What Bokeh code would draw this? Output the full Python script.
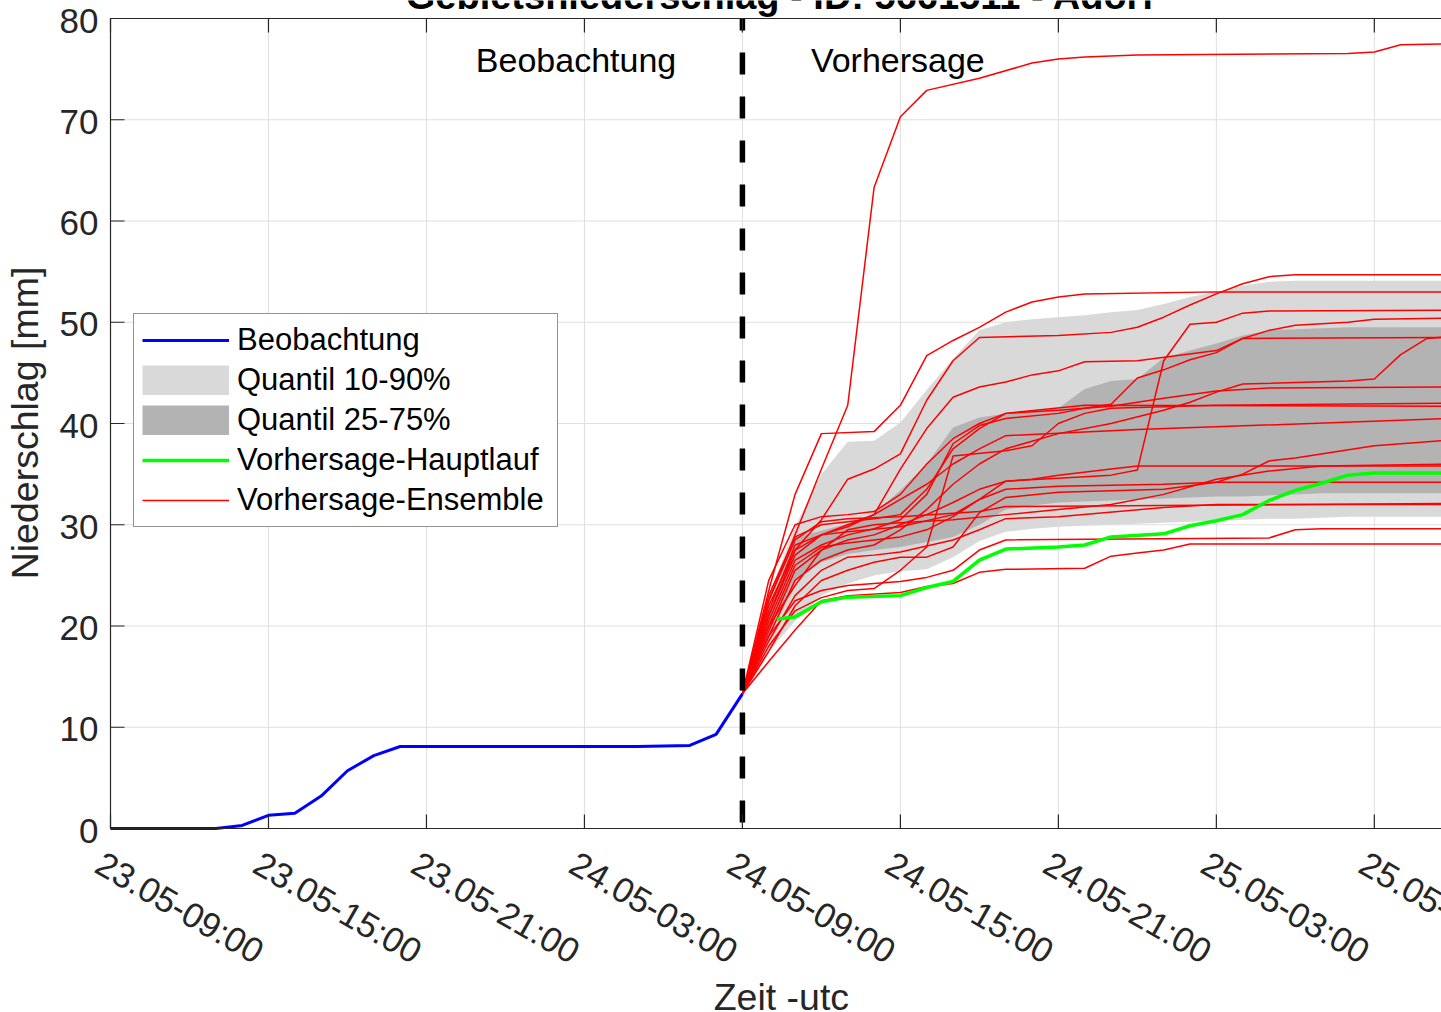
import math

from bokeh.embed import file_html
from bokeh.models import Label, Legend, LegendItem, Range1d
from bokeh.plotting import figure
from bokeh.resources import INLINE

# x positions are hours counted from 23.05 09:00 UTC
tick_hours = [0, 6, 12, 18, 24, 30, 36, 42, 48]
tick_labels = ["23.05-09:00", "23.05-15:00", "23.05-21:00", "24.05-03:00",
               "24.05-09:00", "24.05-15:00", "24.05-21:00", "25.05-03:00",
               "25.05-09:00"]
y_ticks = [0, 10, 20, 30, 40, 50, 60, 70, 80]
y_min, y_max = 0, 80

forecast_start = 24

# observed areal precipitation (cumulative, mm)
obs_hours = list(range(25))
obs_mm = [0, 0, 0, 0, 0, 0.3, 1.3, 1.5, 3.2, 5.7, 7.2, 8.1, 8.1, 8.1, 8.1, 8.1,
          8.1, 8.1, 8.1, 8.1, 8.1, 8.15, 8.2, 9.3, 13.3]

# deterministic main run
main_hours = [25.3, 26, 27, 28, 30, 31, 32, 33, 34, 36, 37, 38, 40, 41, 42, 43,
              44, 45, 46, 47, 48, 51]
main_mm = [20.7, 20.9, 22.4, 22.85, 23.0, 23.8, 24.4, 26.5, 27.6, 27.8, 28.0,
           28.8, 29.1, 29.9, 30.4, 31.0, 32.4, 33.4, 34.1, 34.9, 35.1, 35.1]

# ensemble quantiles, one value per hour from 24 to 51
band_hours = list(range(24, 52))
q10 = [13.3, 17.5, 20.5, 23.0, 24.2, 25.0, 25.4, 25.6, 26.8, 28.4, 29.3, 29.6,
       29.8, 29.9, 30.0, 30.1, 30.2, 30.3, 30.4, 30.5, 30.6, 30.6, 30.7, 30.8,
       30.8, 30.8, 30.8, 30.8]
q25 = [13.3, 19.0, 24.5, 26.3, 27.1, 27.5, 27.8, 28.3, 28.8, 30.0, 31.5, 31.9,
       32.2, 32.3, 32.4, 32.5, 32.6, 32.7, 32.8, 32.8, 32.9, 33.0, 33.1, 33.1,
       33.1, 33.1, 33.1, 33.1]
q75 = [13.3, 21.5, 28.8, 29.4, 30.1, 31.1, 33.4, 36.0, 39.6, 40.6, 41.0, 41.3,
       41.5, 43.4, 44.2, 44.4, 46.5, 47.2, 47.9, 48.7, 49.2, 49.3, 49.4, 49.5,
       49.5, 49.5, 49.5, 49.5]
q90 = [13.3, 23.0, 29.8, 35.0, 38.2, 38.3, 40.1, 43.3, 46.4, 49.2, 50.0, 50.3,
       50.5, 50.7, 51.0, 51.2, 51.8, 52.5, 53.0, 53.6, 54.0, 54.1, 54.1, 54.1,
       54.1, 54.1, 54.1, 54.1]

# ensemble members as (hour, mm) vertices
ens_01 = [(24, 13.3), (25, 22.5), (26, 29.0), (27, 35.5), (28, 41.8), (29, 63.3), (30, 70.3),
          (31, 72.9), (33, 74.1), (35, 75.6), (36, 76.0), (37, 76.2), (39, 76.4), (47, 76.55),
          (48, 76.7), (49, 77.4), (51, 77.5)]
ens_02 = [(24, 13.3), (25, 23.5), (26, 33.0), (27, 39.0), (29, 39.2), (30, 41.8), (31, 46.7),
          (32, 48.2), (33, 49.5), (34, 51.0), (35, 52.0), (36, 52.5), (37, 52.8), (42, 53.0),
          (51, 53.0)]
ens_03 = [(24, 13.3), (25, 21.0), (26, 27.5), (27, 30.5), (28, 34.5), (29, 35.5), (30, 37.0),
          (31, 42.3), (32, 46.2), (33, 48.5), (36, 48.7), (38, 49.0), (39, 49.5), (40, 50.5),
          (41, 51.7), (42, 52.8), (43, 53.8), (44, 54.5), (45, 54.7), (51, 54.7)]
ens_04 = [(24, 13.3), (25, 19.5), (26, 25.5), (27, 27.5), (28, 28.5), (29, 29.0), (30, 30.0),
          (31, 31.0), (32, 32.2), (33, 33.5), (34, 34.3), (36, 34.6), (38, 34.9), (39, 35.4),
          (40, 46.2), (41, 49.8), (42, 50.0), (43, 50.9), (44, 51.1), (51, 51.2)]
ens_05 = [(24, 13.3), (25, 22.0), (26, 27.5), (27, 29.0), (28, 29.8), (29, 31.0), (30, 35.5),
          (31, 39.5), (32, 42.6), (33, 43.6), (34, 44.1), (35, 44.8), (36, 45.2), (37, 46.1),
          (39, 46.2), (42, 47.2), (43, 48.4), (44, 49.2), (45, 49.7), (47, 50.0), (48, 50.3),
          (51, 50.4)]
ens_06 = [(24, 13.3), (25, 20.5), (26, 26.5), (27, 28.0), (28, 29.0), (29, 29.6), (30, 30.5),
          (31, 33.0), (32, 38.0), (33, 39.8), (34, 40.5), (36, 41.0), (37, 41.5), (38, 41.9),
          (39, 44.5), (40, 45.3), (41, 46.3), (42, 47.0), (43, 48.4), (51, 48.5)]
ens_07 = [(24, 13.3), (25, 19.0), (26, 24.5), (27, 26.5), (28, 27.5), (29, 28.0), (30, 29.5),
          (31, 31.5), (32, 34.0), (33, 36.0), (34, 37.5), (36, 39.0), (38, 40.0), (40, 41.3),
          (41, 42.1), (42, 43.1), (43, 43.9), (47, 44.2), (48, 44.4), (49, 46.8), (50, 48.4),
          (51, 48.6)]
ens_08 = [(24, 13.3), (25, 18.0), (26, 21.5), (27, 22.8), (28, 23.5), (29, 23.7), (30, 25.5),
          (31, 27.8), (32, 36.8), (34, 37.3), (35, 37.8), (36, 40.0), (37, 41.0), (38, 41.5),
          (42, 41.8), (51, 42.0)]
ens_09 = [(24, 13.3), (25, 17.5), (26, 22.0), (27, 24.5), (28, 25.5), (29, 26.3), (30, 26.8),
          (31, 26.8), (32, 27.8), (33, 31.2), (34, 32.7), (36, 33.2), (40, 33.5), (42, 34.2),
          (43, 35.0), (44, 36.3), (45, 36.6), (48, 37.8), (51, 38.4)]
ens_10 = [(24, 13.3), (25, 21.0), (26, 27.0), (27, 29.0), (28, 30.0), (29, 31.0), (30, 32.5),
          (31, 34.0), (32, 36.0), (33, 37.5), (34, 38.8), (39, 39.4), (51, 40.5)]
ens_11 = [(24, 13.3), (25, 23.0), (26, 28.8), (27, 30.0), (28, 30.3), (29, 30.6), (30, 31.0),
          (31, 33.5), (32, 37.5), (33, 39.5), (34, 41.0), (37, 41.8), (51, 41.7)]
ens_12 = [(24, 13.3), (25, 20.0), (26, 26.0), (27, 27.8), (28, 28.2), (30, 28.8), (31, 29.5),
          (32, 30.8), (33, 32.5), (34, 34.3), (35, 34.5), (36, 34.9), (38, 35.5), (39, 35.8),
          (51, 35.8)]
ens_13 = [(24, 13.3), (25, 21.5), (26, 28.0), (27, 29.0), (28, 29.3), (30, 29.8), (32, 31.0),
          (33, 32.5), (34, 33.5), (36, 33.8), (40, 34.0), (42, 34.2), (51, 34.2)]
ens_14 = [(24, 13.3), (25, 22.5), (26, 28.5), (27, 30.3), (28, 30.6), (30, 30.8), (33, 31.3),
          (34, 31.8), (51, 32.1)]
ens_15 = [(24, 13.3), (25, 18.5), (26, 23.0), (27, 25.5), (28, 26.8), (29, 27.0), (30, 27.3),
          (32, 28.5), (33, 29.5), (34, 30.6), (36, 30.8), (40, 31.7), (42, 32.0), (51, 32.0)]
ens_16 = [(24, 13.3), (25, 19.0), (26, 22.5), (27, 23.5), (28, 24.0), (30, 24.4), (31, 24.8),
          (32, 25.5), (33, 27.5), (34, 28.5), (44, 28.7), (45, 29.5), (46, 29.6), (51, 29.6)]
ens_17 = [(24, 13.3), (25, 16.5), (26, 19.6), (27, 22.5), (28, 23.0), (30, 23.3), (31, 23.9),
          (32, 24.2), (33, 25.3), (34, 25.6), (37, 25.7), (38, 26.9), (39, 27.2), (40, 27.5),
          (41, 28.1), (51, 28.1)]
ens_18 = [(24, 13.3), (25, 24.5), (26, 30.0), (27, 30.8), (28, 31.0), (29, 31.3), (30, 33.0),
          (31, 36.0), (32, 38.5), (33, 40.0), (34, 41.0), (36, 41.3), (38, 41.7), (40, 42.5),
          (42, 43.2), (44, 43.5), (51, 43.6)]
ens_19 = [(24, 13.3), (25, 20.0), (26, 24.0), (27, 27.5), (28, 29.5), (29, 30.0), (30, 30.2),
          (32, 30.5), (34, 31.0), (36, 31.5), (38, 32.0), (40, 33.0), (42, 34.5), (44, 35.3),
          (46, 35.8), (51, 36.0)]
ensemble = [ens_01, ens_02, ens_03, ens_04, ens_05, ens_06, ens_07, ens_08, ens_09, ens_10,
            ens_11, ens_12, ens_13, ens_14, ens_15, ens_16, ens_17, ens_18, ens_19]

FONT = "Liberation Sans"
INK = "#262626"
GRID = "#dfdfdf"
LIGHT = "#d9d9d9"
DARK = "#b3b3b3"

# canvas geometry: the plotting area covers the whole canvas and the axes box
# (0..80 mm from 23.05 09:00 on) is drawn inside it, leaving room for the
# title, the rotated time labels and the axis titles
W, H = 1441, 1012
BOX_LEFT, BOX_TOP, BOX_BOTTOM = 110, 18, 828
PX_PER_MM = (BOX_BOTTOM - BOX_TOP) / (y_max - y_min)
PX_PER_H = 26.33
x_lo = -BOX_LEFT / PX_PER_H
x_hi = (W - BOX_LEFT) / PX_PER_H
y_lo = y_min - (H - BOX_BOTTOM) / PX_PER_MM
y_hi = y_max + BOX_TOP / PX_PER_MM
TICK_X = 14 / PX_PER_H
TICK_Y = 14 / PX_PER_MM

p = figure(width=W, height=H,
           x_range=Range1d(x_lo, x_hi), y_range=Range1d(y_lo, y_hi),
           output_backend="svg", toolbar_location=None,
           x_axis_location=None, y_axis_location=None,
           min_border_left=0, min_border_right=0,
           min_border_top=0, min_border_bottom=0)
p.outline_line_color = None
p.background_fill_color = "white"
p.border_fill_color = "white"
p.xgrid.visible = False
p.ygrid.visible = False

nx, ny = len(tick_hours), len(y_ticks)

# grid lines inside the box
p.segment(x0=tick_hours, y0=[y_min] * nx, x1=tick_hours, y1=[y_max] * nx,
          line_color=GRID, line_width=1)
p.segment(x0=[0] * ny, y0=y_ticks, x1=[x_hi] * ny, y1=y_ticks,
          line_color=GRID, line_width=1)

# quantile bands
p.varea(x=band_hours, y1=q10, y2=q90, fill_color=LIGHT)
p.varea(x=band_hours, y1=q25, y2=q75, fill_color=DARK)

# ensemble members
r_ens = p.multi_line(xs=[[h for h, _ in m] for m in ensemble],
                     ys=[[v for _, v in m] for m in ensemble],
                     line_color="#ff0000", line_width=1.5)

r_main = p.line(main_hours, main_mm, line_color="#00ff00", line_width=3.5)
r_obs = p.line(obs_hours, obs_mm, line_color="#0000ff", line_width=3)

# forecast start marker
p.line([forecast_start, forecast_start], [y_min, y_max], line_color="black",
       line_width=5.5, line_dash="22 22", line_dash_offset=38)

# box edges (left, bottom, top) with inward ticks
p.segment(x0=[0, 0, 0], y0=[y_min, y_min, y_max], x1=[0, x_hi, x_hi],
          y1=[y_max, y_min, y_max], line_color=INK, line_width=1.2)
p.segment(x0=tick_hours, y0=[y_min] * nx, x1=tick_hours, y1=[y_min + TICK_Y] * nx,
          line_color=INK, line_width=1.2)
p.segment(x0=tick_hours, y0=[y_max] * nx, x1=tick_hours, y1=[y_max - TICK_Y] * nx,
          line_color=INK, line_width=1.2)
p.segment(x0=[0] * ny, y0=y_ticks, x1=[TICK_X] * ny, y1=y_ticks,
          line_color=INK, line_width=1.2)

# legend swatches for the bands (single-point renderers drawn as wide strokes)
nan = float("nan")
r_key_light = p.line(x=[nan], y=[nan], line_color=LIGHT, line_width=30, line_cap="butt")
r_key_dark = p.line(x=[nan], y=[nan], line_color=DARK, line_width=30, line_cap="butt")

# tick labels
for v in y_ticks:
    p.add_layout(Label(x=0, y=v - 0.21, x_offset=-12, text=str(v),
                       text_align="right", text_baseline="alphabetic", text_font=FONT,
                       text_font_size="35px", text_color=INK))
for h, lab in zip(tick_hours, tick_labels):
    p.add_layout(Label(x=h, y=-3.16, x_offset=-11.5, text=lab, angle=-math.pi / 6,
                       text_align="left", text_baseline="alphabetic", text_font=FONT,
                       text_font_size="35px", text_color=INK))

# axis titles
p.add_layout(Label(x=-3.23, y=40.05, text="Niederschlag [mm]", angle=math.pi / 2,
                   text_align="center", text_baseline="alphabetic", text_font=FONT,
                   text_font_size="37.5px", text_color=INK))
p.add_layout(Label(x=25.48, y=-16.6, text="Zeit -utc", text_align="center",
                   text_baseline="alphabetic", text_font=FONT,
                   text_font_size="37.5px", text_color=INK))

p.add_layout(Label(x=17.68, y=75.9, text="Beobachtung", text_align="center",
                   text_baseline="alphabetic", text_font=FONT,
                   text_font_size="34px", text_color="black"))
p.add_layout(Label(x=26.6, y=75.9, text="Vorhersage", text_align="left",
                   text_baseline="alphabetic", text_font=FONT,
                   text_font_size="34px", text_color="black"))

p.add_layout(Label(x=25.45, y=82.25, text="Gebietsniederschlag - ID: 5661511 - Adorf",
                   text_align="center", text_baseline="alphabetic", text_font=FONT,
                   text_font_size="38px", text_font_style="bold", text_color="black"))

legend = Legend(items=[
    LegendItem(label="Beobachtung", renderers=[r_obs]),
    LegendItem(label="Quantil 10-90%", renderers=[r_key_light]),
    LegendItem(label="Quantil 25-75%", renderers=[r_key_dark]),
    LegendItem(label="Vorhersage-Hauptlauf", renderers=[r_main]),
    LegendItem(label="Vorhersage-Ensemble", renderers=[r_ens]),
], location=(133, H - 527))
legend.label_text_font = FONT
legend.label_text_font_size = "31px"
legend.label_text_color = "black"
legend.glyph_width = 87
legend.glyph_height = 30
legend.label_height = 35
legend.label_width = 312
legend.label_standoff = 8
legend.spacing = 4
legend.padding = 8
legend.margin = 0
legend.border_line_color = INK
legend.border_line_width = 1.3
legend.background_fill_color = "white"
legend.background_fill_alpha = 1
p.add_layout(legend)

open("out.html", "w").write(file_html(p, INLINE))
